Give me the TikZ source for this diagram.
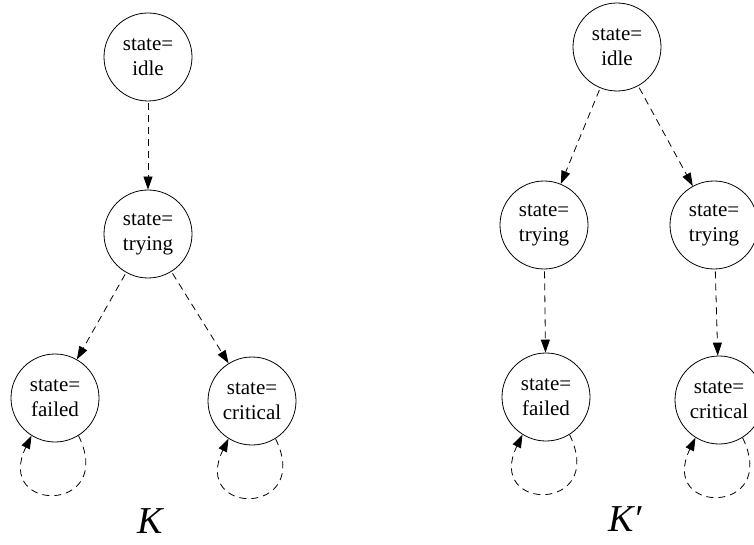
\documentclass[tikz,border=0pt]{standalone}
\usepackage{fontspec}
\setmainfont{Liberation Serif}
\usetikzlibrary{arrows.meta}

\tikzset{
  statenode/.style={circle, draw, line width=0.8pt, minimum size=88pt, inner sep=0pt,
    align=center, font=\fontsize{21}{25}\selectfont},
  trans/.style={line width=0.8pt, dash pattern=on 7pt off 5pt,
    -{Triangle[length=13pt,width=9pt]}, shorten <=2pt},
  selfloop/.style={line width=0.8pt, dash pattern=on 7pt off 5pt,
    -{Triangle[length=13pt,width=9pt]}},
  modelname/.style={font=\fontsize{38}{38}\selectfont\itshape, inner sep=0pt}
}

\begin{document}
\begin{tikzpicture}[x=1pt, y=1pt]
  \useasboundingbox (0,0) rectangle (754,544);
  \clip (0,0) rectangle (754,544);

  % structure K
  \node[statenode] (li) at (148,487) {state=\\idle};
  \node[statenode] (lt) at (148,310) {state=\\trying};
  \node[statenode] (lf) at (55,146) {state=\\failed};
  \node[statenode] (lc) at (252,143) {state=\\critical};
  \node[modelname] (k) at (150,23) {K};

  \draw[trans] (li) -- (lt);
  \draw[trans] (lt) -- (lf);
  \draw[trans] (lt) -- (lc);
  \draw[selfloop] (lf.-58) .. controls +(38,-78) and +(-38,-78) .. (lf.-122);
  \draw[selfloop] (lc.-58) .. controls +(38,-78) and +(-38,-78) .. (lc.-122);

  % structure K'
  \node[statenode] (ri) at (617,497) {state=\\idle};
  \node[statenode] (rta) at (544,319) {state=\\trying};
  \node[statenode] (rtb) at (714,319) {state=\\trying};
  \node[statenode] (rf) at (546,147) {state=\\failed};
  \node[statenode] (rc) at (719,144) {state=\\critical};
  \node[modelname] (kp) at (625,25) {K′};

  \draw[trans] (ri) -- (rta);
  \draw[trans] (ri) -- (rtb);
  \draw[trans] (rta) -- (rf);
  \draw[trans] (rtb) -- (rc);
  \draw[selfloop] (rf.-58) .. controls +(38,-78) and +(-38,-78) .. (rf.-122);
  \draw[selfloop] (rc.-58) .. controls +(38,-78) and +(-38,-78) .. (rc.-122);
\end{tikzpicture}
\end{document}
